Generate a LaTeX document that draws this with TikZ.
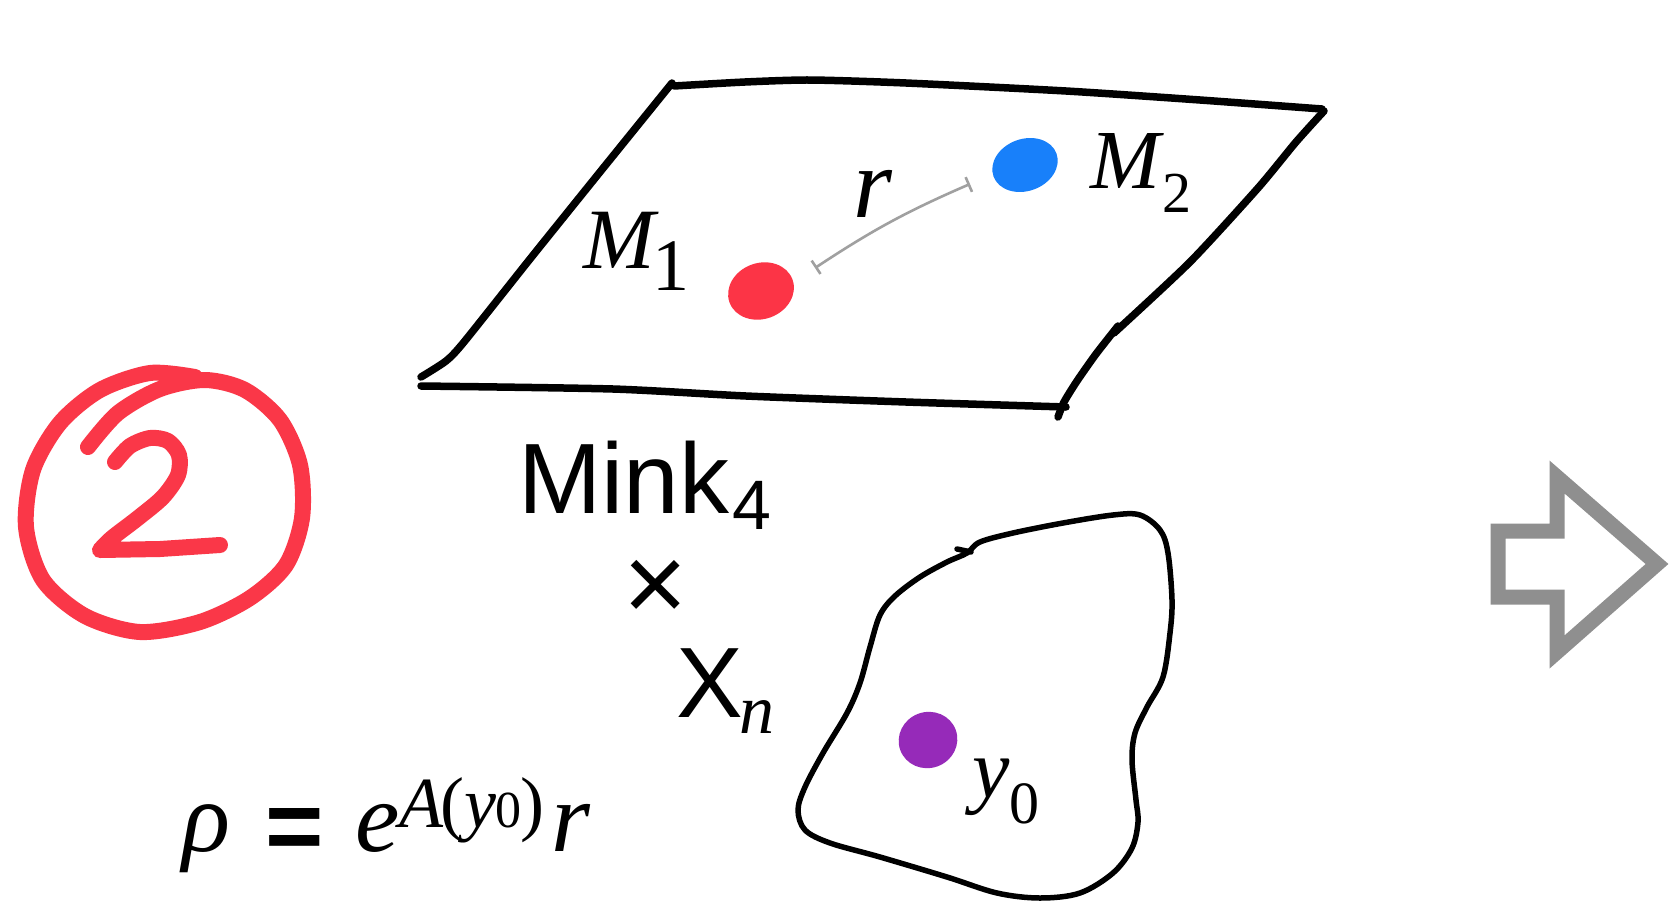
\documentclass[tikz,border=0pt]{standalone}
\usepackage{fontspec}
\setmainfont{Liberation Serif}
\setsansfont{Liberation Sans}
\usetikzlibrary{arrows.meta,shapes.geometric}
\newcommand{\setfs}[1]{\fontsize{#1pt}{#1pt}\selectfont}
\definecolor{dotred}{RGB}{252,52,70}
\definecolor{dotblue}{RGB}{24,128,250}
\definecolor{dotpurple}{RGB}{150,42,185}
\definecolor{crayon}{RGB}{250,55,72}
\definecolor{arrowgray}{RGB}{143,143,143}
\definecolor{rulegray}{RGB}{160,160,160}
\begin{document}
\begin{tikzpicture}[x=1pt,y=-1pt,
  ink/.style={draw=black,line width=7.5pt,line cap=round,line join=round},
  blobline/.style={draw=black,line width=5.5pt,line cap=round,line join=round},
  dot/.style={ellipse,inner sep=0pt},
  lbl/.style={inner sep=0pt,anchor=base west},
  crayonline/.style={draw=crayon,line width=16pt,line cap=round,line join=round}]
\useasboundingbox (0,0) rectangle (1672,905);
\fill[white] (0,0) rectangle (1672,905);

% plane (Mink_4)
\draw[ink] plot[smooth,tension=0.4] coordinates {(674,86) (745,82) (810,80) (906,83) (1066,91) (1200,100) (1322,109)};
\draw[ink] plot[smooth,tension=0.4] coordinates {(1324,111) (1296,142) (1258,188) (1190,262) (1114,333)};
\draw[ink] plot[smooth,tension=0.4] coordinates {(1118,326) (1096,354) (1077,381) (1064,402) (1058,417)};
\draw[ink] plot[smooth,tension=0.4] coordinates {(421,386) (613,389) (746,396) (906,402) (1066,407)};
\draw[ink] plot[smooth,tension=0.4] coordinates {(672,83) (600,172) (530,259) (464,342) (446,361) (421,377)};

% dots
\node[dot,fill=dotred,minimum width=67pt,minimum height=56pt,rotate=20] (m1) at (761,291) {};
\node[dot,fill=dotblue,minimum width=67pt,minimum height=52pt,rotate=20] (m2) at (1025,165) {};
\coordinate (rA) at (815,268);
\coordinate (rB) at (970,184);
\draw[rulegray,line width=2.6pt,{Bar[width=16pt]}-{Bar[width=16pt]}] (rA) to[bend left=5] (rB);

% labels on plane
\node[lbl] (m1lbl) at (583,268) {\setfs{86}\textit{M}\kern-6pt\raisebox{-22pt}{\setfs{74}1}};
\node[lbl] (m2lbl) at (1090,188) {\setfs{84}\textit{M}\kern-2pt\raisebox{-24pt}{\setfs{58}2}};
\node[lbl] (rlbl) at (853,217) {\setfs{100}\textit{r}};

% product text
\node[lbl] (mink) at (518,513) {\sffamily\setfs{100}Mink\kern3pt\raisebox{-16pt}{\setfs{70}4}};
\node[inner sep=0pt] (times) at (656,591) {\sffamily\setfs{110}×};
\node[lbl] (xn) at (676,717) {\sffamily\setfs{100}X\kern-3pt\raisebox{-16pt}{\rmfamily\itshape\setfs{70}n}};

% internal space X_n
\draw[blobline] plot[smooth cycle,tension=0.55] coordinates {(980,542) (1013,533) (1063,523) (1113,515) (1140,515) (1160,530) (1168,553) (1172,600) (1170,633) (1163,677) (1147,707) (1135,733) (1132,760) (1136,800) (1138,822) (1132,848) (1113,873) (1080,893) (1040,898) (997,893) (947,877) (880,857) (830,843) (805,830) (798,810) (805,787) (823,753) (847,713) (860,683) (870,647) (880,615) (895,596) (920,577) (947,562) (967,553)};
\draw[blobline] (957,549) -- (971,552);
\node[dot,fill=dotpurple,minimum width=59pt,minimum height=56pt,rotate=20] (y0) at (928,740) {};
\node[lbl] (y0lbl) at (972,797) {\setfs{84}\textit{y}\raisebox{-26pt}{\setfs{60}0}};

% formula
\node[lbl] (rho) at (182,851) {\setfs{100}\makebox[83pt][l]{\textit{ρ}}\makebox[90pt][l]{\raisebox{-9pt}{\sffamily\bfseries\setfs{100}=}}\makebox[44pt][l]{\textit{e}}\makebox[152pt][l]{\raisebox{24pt}{\setfs{72}\textit{A}\kern-3pt(\textit{y}\kern-1pt{\setfs{52}0}\kern-1pt)}}\textit{r}};

% crayon circled 2
\draw[crayonline] plot[smooth] coordinates {(88,447) (118,413) (160,389) (205,380) (245,390) (280,420) (300,465) (302,518) (286,565) (250,598) (200,622) (140,632) (85,616) (43,580) (26,527) (33,470) (60,423) (100,390) (150,373) (195,377)};
\draw[crayonline] plot[smooth] coordinates {(115,462) (130,446) (150,438) (168,441) (179,455) (178,475) (163,497) (138,518) (112,538) (100,550)} -- (160,549) -- (220,545);

% big outline arrow
\draw[arrowgray,line width=15pt,line join=miter] (1498,531) -- (1557,531) -- (1557,477) -- (1657,564) -- (1557,652) -- (1557,597) -- (1498,597) -- cycle;
\end{tikzpicture}
\end{document}
